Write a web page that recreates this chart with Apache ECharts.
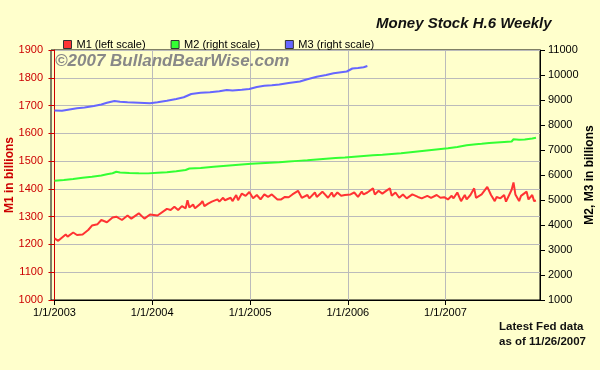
<!DOCTYPE html>
<html>
<head>
<meta charset="utf-8">
<script src="https://cdn.jsdelivr.net/npm/echarts@6/dist/echarts.min.js"></script>
<style>
html,body{margin:0;padding:0;background:#ffffcc;}
#chart{width:600px;height:370px;}
</style>
</head>
<body>
<div id="chart"></div>
<script>
// Week index counted from 1/1/2003 (x = 7 * week days)
var yearTickDays = [0, 365, 731, 1096, 1461];
var yearTickLabels = ['1/1/2003', '1/1/2004', '1/1/2005', '1/1/2006', '1/1/2007'];

var m1Week = [0,2,6,7,10,12,15,18,20,23,
  25,28,31,33,36,39,41,45,48,51,
  55,60,62,64,66,68,70,71,72,74,
  75,78,79,80,82,84,87,88,90,91,
  94,95,97,98,100,102,104,106,108,110,
  112,114,116,119,121,123,125,127,130,132,
  135,136,139,140,143,144,146,148,149,151,
  153,155,156,158,160,162,164,165,167,170,
  171,173,175,177,179,180,182,184,186,188,
  189,191,194,196,197,199,201,204,206,208,
  210,212,213,215,217,219,220,222,224,225,
  228,229,231,233,235,236,238,240,241,244,
  245,246,248,249,252,253,255,256,257];
var m1 = [1222,1213,1236,1228,1243,1234,1236,1252,1268,1273,
  1288,1280,1297,1300,1288,1304,1293,1312,1293,1308,
  1304,1328,1324,1336,1324,1338,1330,1359,1333,1344,
  1330,1347,1356,1338,1347,1354,1362,1354,1368,1359,
  1368,1356,1378,1359,1383,1375,1389,1366,1378,1362,
  1380,1371,1380,1362,1362,1371,1370,1380,1393,1368,
  1378,1366,1387,1371,1390,1397,1368,1387,1371,1387,
  1375,1378,1375,1380,1387,1371,1390,1380,1387,1402,
  1380,1393,1383,1393,1402,1375,1387,1368,1380,1366,
  1370,1380,1371,1366,1370,1375,1368,1378,1368,1370,
  1362,1375,1366,1387,1356,1378,1362,1378,1402,1368,
  1380,1375,1407,1378,1356,1371,1366,1378,1354,1397,
  1423,1380,1356,1375,1390,1362,1378,1356,1358];

var m2Week = [0,5,10,15,20,25,28,31,33,35,
  40,45,50,55,60,65,70,72,78,85,
  90,95,100,105,110,115,120,125,130,135,
  140,145,150,155,160,165,170,175,180,185,
  190,195,200,205,210,215,220,225,228,232,
  236,240,244,245,248,251,253,255,257];
var m2 = [5770,5800,5840,5890,5930,5980,6030,6070,6130,6100,
  6080,6070,6065,6090,6110,6150,6200,6260,6280,6330,
  6360,6390,6420,6450,6470,6490,6510,6540,6565,6590,
  6620,6650,6680,6700,6730,6760,6790,6810,6840,6870,
  6910,6950,6990,7030,7070,7120,7190,7230,7250,7280,
  7300,7320,7340,7430,7410,7420,7440,7460,7490];

var m3Week = [0,4,8,12,16,21,25,28,32,35,
  39,45,51,55,60,65,69,73,78,83,
  88,92,95,100,104,108,112,116,120,125,
  131,135,140,145,149,153,156,159,162,165,
  167];
var m3 = [8580,8570,8620,8670,8700,8760,8820,8890,8960,8930,
  8910,8890,8870,8910,8970,9040,9110,9240,9290,9310,
  9350,9400,9380,9410,9440,9520,9570,9590,9620,9680,
  9740,9830,9930,10000,10070,10110,10140,10260,10280,10310,
  10360];

var seriesNames = ['M1 (left scale)', 'M2 (right scale)', 'M3 (right scale)'];

function pairs(weeks, vals) {
  var out = [];
  for (var i = 0; i < weeks.length && i < vals.length; i++) out.push([weeks[i] * 7, vals[i]]);
  return out;
}
function plain(v) { return String(v); }

var FONT = 'Arial, "Liberation Sans", sans-serif';
var chart = echarts.init(document.getElementById('chart'), null, {renderer: 'canvas'});
chart.setOption({
  animation: false,
  backgroundColor: '#ffffcc',
  textStyle: {fontFamily: FONT},
  grid: {left: 51, right: 60, top: 50, bottom: 70, show: true, borderColor: '#000', borderWidth: 1,
    backgroundColor: 'transparent', containLabel: false, outerBoundsMode: 'none'},
  legend: {
    data: seriesNames,
    left: 63, top: 39, padding: 0,
    icon: 'rect', itemWidth: 8, itemHeight: 8, itemGap: 25,
    itemStyle: {borderColor: '#333', borderWidth: 1},
    textStyle: {fontSize: 11, color: '#000', fontFamily: FONT}
  },
  xAxis: {
    type: 'value', min: -13, max: 1814,
    axisLine: {show: true, lineStyle: {color: '#000', width: 1}},
    axisTick: {show: true, length: 5, customValues: yearTickDays, lineStyle: {color: '#000'}},
    axisLabel: {customValues: yearTickDays, fontSize: 11, color: '#000', margin: 7, fontFamily: FONT,
      formatter: function (v) { var i = yearTickDays.indexOf(v); return i >= 0 ? yearTickLabels[i] : ''; }},
    splitLine: {show: true, lineStyle: {color: '#bbbbbb', width: 1}}
  },
  yAxis: [{
    type: 'value', min: 1000, max: 1900, interval: 100, position: 'left',
    name: 'M1 in billions', nameLocation: 'middle', nameRotate: 90, nameGap: 35, nameMoveOverlap: false,
    nameTextStyle: {color: '#cc0000', fontWeight: 'bold', fontSize: 12, fontFamily: FONT},
    axisLine: {show: true, lineStyle: {color: '#cc0000', width: 1}},
    axisTick: {show: true, length: 6, lineStyle: {color: '#cc0000'}},
    axisLabel: {color: '#cc0000', fontSize: 11, margin: 8, fontFamily: FONT, formatter: plain},
    splitLine: {show: true, lineStyle: {color: '#bbbbbb', width: 1}}
  }, {
    type: 'value', min: 1000, max: 11000, interval: 1000, position: 'right',
    name: 'M2, M3 in billions', nameLocation: 'middle', nameRotate: 90, nameGap: 44, nameMoveOverlap: false,
    nameTextStyle: {color: '#000', fontWeight: 'bold', fontSize: 12, fontFamily: FONT},
    axisLine: {show: true, lineStyle: {color: '#000', width: 1}},
    axisTick: {show: true, length: 5, lineStyle: {color: '#000'}},
    axisLabel: {color: '#000', fontSize: 11, margin: 8, fontFamily: FONT, formatter: plain},
    splitLine: {show: false}
  }],
  series: [{
    name: seriesNames[0], type: 'line', yAxisIndex: 0, showSymbol: false, symbol: 'none',
    data: pairs(m1Week, m1), color: '#ff3333', lineStyle: {color: '#ff3333', width: 2}, z: 4
  }, {
    name: seriesNames[1], type: 'line', yAxisIndex: 1, showSymbol: false, symbol: 'none',
    data: pairs(m2Week, m2), color: '#33ff33', lineStyle: {color: '#33ff33', width: 2}, z: 3
  }, {
    name: seriesNames[2], type: 'line', yAxisIndex: 1, showSymbol: false, symbol: 'none',
    data: pairs(m3Week, m3), color: '#6666ff', lineStyle: {color: '#6666ff', width: 2}, z: 3
  }],
  graphic: [{
    type: 'text', left: 376, top: 16, z: 10,
    style: {text: 'Money Stock H.6 Weekly', fill: '#111', font: 'italic bold 15px ' + FONT}
  }, {
    type: 'text', left: 55, top: 53, z: 1,
    style: {text: '\u00a92007 BullandBearWise.com', fill: '#888888', font: 'italic bold 17px ' + FONT}
  }, {
    type: 'text', right: 14, top: 319, z: 10,
    style: {text: 'Latest Fed data\nas of 11/26/2007', fill: '#111', font: 'bold 11.5px ' + FONT, lineHeight: 15, textAlign: 'left'}
  }]
});
</script>
</body>
</html>
